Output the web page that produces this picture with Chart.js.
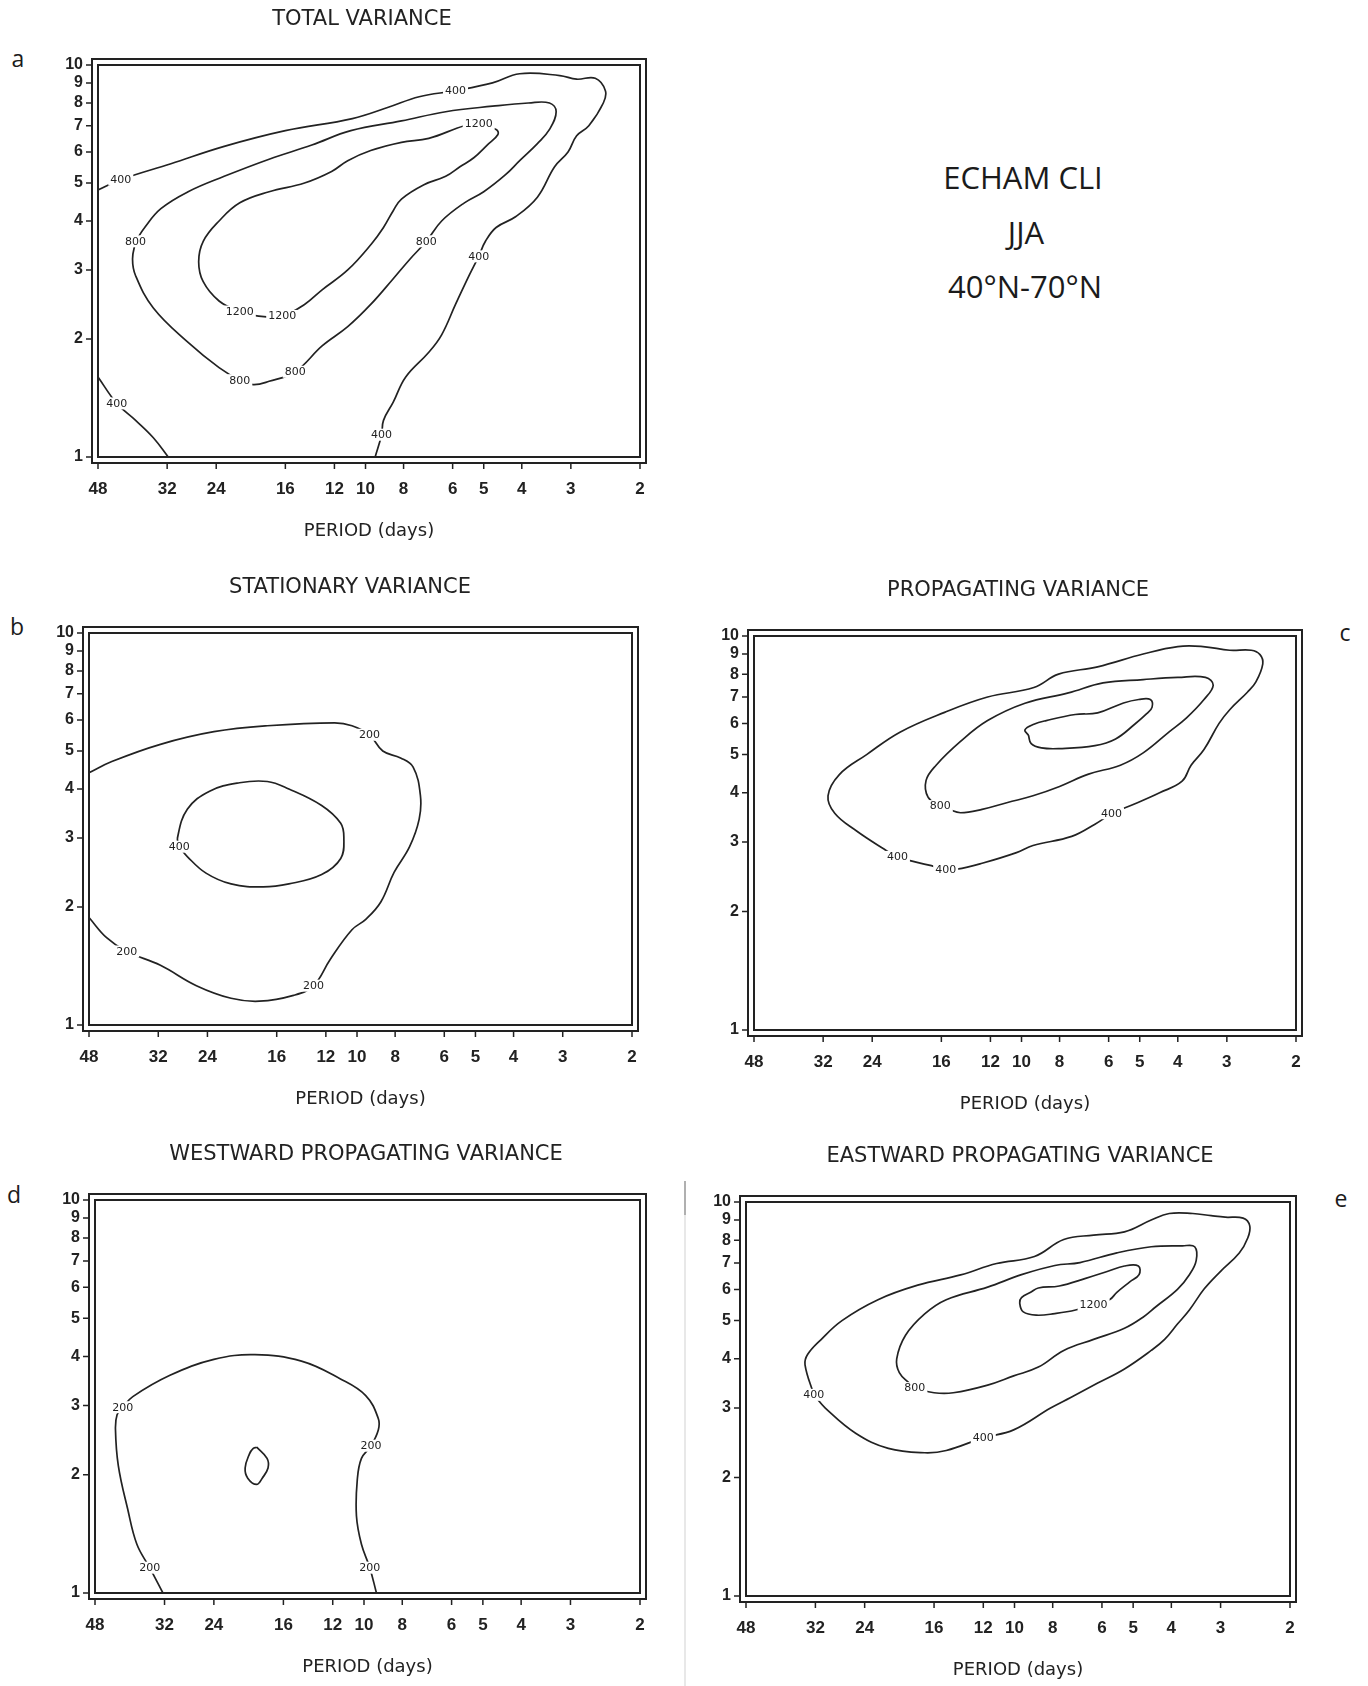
<!DOCTYPE html>
<html>
<head>
<meta charset="utf-8">
<script src="https://cdn.jsdelivr.net/npm/chart.js@4.4.1/dist/chart.umd.min.js"></script>
<style>
  html, body { margin: 0; padding: 0; background: #fff; }
  body { width: 1368px; height: 1686px; position: relative; overflow: hidden; }
  canvas { position: absolute; }
  .txt { position: absolute; font-family: "Open Sans", sans-serif; color: #1b1b1b; white-space: nowrap; text-align: center; }
  .big { font-size: 31px; line-height: 40px; width: 300px; }
  .letter { font-size: 23px; line-height: 24px; width: 30px; }
  .scan { position: absolute; left: 684px; width: 2px; }
</style>
</head>
<body>
<div class="txt big" style="left:873px; top:157px;">ECHAM CLI</div>
<div class="txt big" style="left:876px; top:212px;">JJA</div>
<div class="txt big" style="left:875px; top:266px;">40°N-70°N</div>

<div class="txt letter" style="left:3px; top:46px;">a</div>
<div class="txt letter" style="left:2px; top:614px;">b</div>
<div class="txt letter" style="left:1330px; top:620px;">c</div>
<div class="txt letter" style="left:-1px; top:1182px;">d</div>
<div class="txt letter" style="left:1326px; top:1186px;">e</div>

<div class="scan" style="top:1182px; height:504px; background:#e8e8e8;"></div>
<div class="scan" style="top:1181px; height:34px; background:#b0b0b0;"></div>

<script>
// axis ticks
const periodTicks = [48, 32, 24, 16, 12, 10, 8, 6, 5, 4, 3, 2];
const waveTicks = [1, 2, 3, 4, 5, 6, 7, 8, 9, 10];

// contours are [period (days), wavenumber]
// a - total variance
const totalC400 = [[48,4.8],[42,5.1],[31.3,5.6],[22.9,6.2],[16,6.8],[10.8,7.3],[8.75,7.8],[7.3,8.3],[5.9,8.6],[4.75,9.0],[4.05,9.5],[3.2,9.4],[2.9,9.2],[2.6,9.25],[2.45,8.6],[2.48,8.0],[2.7,7.0],[2.9,6.6],[3.05,6.0],[3.3,5.5],[3.65,4.6],[4.15,4.1],[4.65,3.85],[4.95,3.55],[5.15,3.25],[5.45,2.9],[5.9,2.45],[6.4,2.05],[6.9,1.85],[7.9,1.6],[8.5,1.38],[9.0,1.24],[9.1,1.14],[9.45,1.0]];
const totalC400low = [[48,1.6],[43,1.37],[38.5,1.24],[34.7,1.12],[31.8,1.0]];
const totalC800 = [[38.5,3.55],[36.5,3.85],[33.2,4.3],[28.3,4.75],[22.9,5.2],[17.6,5.75],[13.7,6.25],[10.9,6.8],[8.1,7.2],[6.25,7.6],[4.75,7.85],[3.85,8.0],[3.4,8.0],[3.27,7.6],[3.4,6.85],[3.65,6.3],[4.05,5.7],[4.4,5.25],[5.0,4.75],[5.6,4.45],[6.4,4.0],[7.0,3.55],[7.7,3.2],[8.5,2.85],[9.7,2.45],[11.1,2.15],[12.9,1.92],[15.1,1.65],[17.6,1.56],[19.3,1.53],[20.9,1.57],[23.6,1.69],[28.3,1.96],[34.7,2.4],[38.5,2.9],[39.2,3.2],[38.5,3.55]];
const totalC1200 = [[5.15,7.07],[4.65,6.85],[4.6,6.65],[4.9,6.25],[5.3,5.8],[5.75,5.5],[6.25,5.2],[7.1,4.95],[8.1,4.55],[8.5,4.25],[9.0,3.85],[9.65,3.5],[11.1,3.0],[12.9,2.67],[14.3,2.45],[16.3,2.29],[18.9,2.29],[20.9,2.35],[23.6,2.5],[25.9,2.8],[26.6,3.15],[25.9,3.55],[23.6,4.0],[20.9,4.45],[17.6,4.75],[14.3,5.0],[12.2,5.35],[11.1,5.7],[9.7,6.05],[8.1,6.35],[6.9,6.5],[5.6,7.0],[5.15,7.07]];
const totalLabels = [[42,5.1,'400'],[5.9,8.6,'400'],[5.15,3.25,'400'],[9.1,1.14,'400'],[43,1.37,'400'],
  [38.5,3.55,'800'],[7.0,3.55,'800'],[15.1,1.65,'800'],[20.9,1.57,'800'],
  [5.15,7.07,'1200'],[16.3,2.29,'1200'],[20.9,2.35,'1200']];

// b - stationary variance
const statC200 = [[48,4.4],[42,4.7],[31.6,5.2],[23.1,5.6],[16.9,5.8],[11.4,5.9],[10.3,5.8],[9.3,5.5],[8.6,5.0],[7.75,4.8],[7.2,4.55],[6.9,3.85],[6.95,3.35],[7.35,2.85],[8.05,2.45],[8.7,2.06],[9.5,1.86],[10.3,1.75],[11.7,1.47],[12.9,1.26],[14.5,1.19],[17.7,1.15],[20.9,1.17],[25.6,1.26],[31.6,1.42],[38.5,1.54],[43.3,1.67],[48,1.88]];
const statC400 = [[28.3,2.85],[28.6,3.0],[27,3.55],[23.7,3.95],[19.9,4.15],[16.9,4.18],[14.9,4.0],[12.3,3.63],[11.0,3.27],[10.8,3.0],[11.0,2.66],[12.3,2.42],[14.9,2.29],[17.3,2.25],[20.9,2.29],[24.2,2.44],[27,2.69],[28.3,2.85]];
const statLabels = [[9.3,5.5,'200'],[12.9,1.26,'200'],[38.5,1.54,'200'],[28.3,2.85,'400']];

// c - propagating variance
const propC400 = [[5.9,3.55],[6.5,3.33],[7.45,3.1],[9.35,2.94],[10.3,2.82],[12.6,2.65],[14.6,2.56],[15.6,2.56],[17.2,2.62],[20.7,2.75],[22.4,2.88],[26.3,3.2],[29.9,3.55],[31.1,3.93],[29.1,4.45],[24.8,5.0],[20.4,5.7],[15.7,6.4],[12.2,7.0],[9.3,7.4],[8.05,8.0],[6.4,8.35],[4.9,9.0],[4.0,9.4],[3.45,9.4],[2.95,9.2],[2.6,9.2],[2.47,8.97],[2.43,8.5],[2.53,7.65],[2.66,7.2],[2.95,6.5],[3.14,6.0],[3.43,5.15],[3.7,4.7],[3.9,4.28],[4.45,4.0],[5.05,3.78],[5.9,3.55]];
const propC800 = [[16.1,3.7],[17.3,3.9],[17.5,4.3],[16.5,4.7],[14.3,5.4],[12.2,6.1],[9.8,6.75],[7.6,7.17],[6.2,7.6],[4.9,7.75],[4.0,7.85],[3.4,7.85],[3.25,7.5],[3.43,6.9],[3.8,6.2],[4.2,5.72],[4.9,5.05],[5.6,4.7],[6.75,4.46],[8.0,4.15],[9.35,3.93],[10.85,3.78],[12.6,3.63],[14.3,3.56],[15.3,3.63],[16.1,3.7]];
const propC1200 = [[9.6,5.6],[9.8,5.78],[9.3,5.97],[8.65,6.1],[7.3,6.32],[6.4,6.38],[5.5,6.76],[5.03,6.9],[4.7,6.9],[4.65,6.6],[4.8,6.35],[5.15,5.97],[5.76,5.48],[6.5,5.27],[8.0,5.18],[8.9,5.2],[9.45,5.33],[9.6,5.6]];
const propLabels = [[5.9,3.55,'400'],[15.6,2.56,'400'],[20.7,2.75,'400'],[16.1,3.7,'800']];

// d - westward propagating variance
const westC200 = [[32.3,1.0],[34.9,1.16],[37.6,1.33],[39.7,1.64],[41.9,2.11],[42.6,2.61],[42.2,2.84],[40.8,2.97],[38.5,3.16],[31,3.58],[24,3.93],[18.9,4.04],[14.4,3.89],[11.5,3.51],[9.9,3.18],[9.2,2.78],[9.2,2.6],[9.6,2.37],[10.15,2.2],[10.4,1.94],[10.45,1.57],[10.15,1.33],[9.67,1.16],[9.3,1.0]];
const westCore = [[18.7,2.35],[17.6,2.2],[17.5,2.08],[18.1,1.96],[18.7,1.89],[19.7,1.96],[20.0,2.08],[19.5,2.26],[19.1,2.33],[18.7,2.35]];
const westLabels = [[34.9,1.16,'200'],[40.8,2.97,'200'],[9.6,2.37,'200'],[9.67,1.16,'200']];

// e - eastward propagating variance
const eastC400 = [[32.3,3.24],[30.2,3.0],[25.3,2.59],[20.9,2.37],[16.9,2.31],[14.9,2.34],[12,2.52],[10.05,2.64],[8.1,3.0],[7.2,3.19],[6.15,3.47],[5.26,3.77],[4.5,4.2],[4.16,4.48],[3.86,4.9],[3.6,5.32],[3.3,6.02],[3.0,6.67],[2.69,7.42],[2.56,8.1],[2.53,8.7],[2.63,9.1],[2.92,9.15],[3.17,9.23],[3.53,9.35],[4.05,9.35],[4.5,9.0],[5.26,8.4],[6.3,8.24],[7.5,8.03],[8.9,7.27],[11.1,6.98],[13.7,6.53],[17.6,6.15],[22.2,5.65],[27.4,5.0],[31.0,4.47],[33.5,4.1],[34.0,3.86],[32.3,3.24]];
const eastC800 = [[17.9,3.37],[16,3.28],[14.3,3.28],[11.7,3.43],[10.05,3.62],[8.7,3.81],[7.5,4.2],[6.3,4.48],[5.26,4.78],[4.72,5.1],[4.37,5.43],[3.86,6.0],[3.6,6.54],[3.46,7.1],[3.49,7.7],[3.75,7.74],[4.5,7.7],[5.5,7.43],[6.82,7.02],[7.9,6.9],[9.6,6.54],[11.7,6.08],[14.9,5.65],[16.9,5.2],[18.9,4.59],[19.9,4.0],[19.6,3.69],[18.5,3.47],[17.9,3.37]];
const eastC1200 = [[6.3,5.5],[7.0,5.32],[7.9,5.21],[8.8,5.16],[9.5,5.26],[9.7,5.54],[9.6,5.72],[9.1,5.9],[8.7,6.05],[7.7,6.12],[6.6,6.4],[5.82,6.66],[5.26,6.88],[4.85,6.88],[4.83,6.54],[5.1,6.27],[5.5,5.9],[5.74,5.65],[6.3,5.5]];
const eastLabels = [[32.3,3.24,'400'],[12,2.52,'400'],[17.9,3.37,'800'],[6.3,5.5,'1200']];

const INK = '#222';

// plot box in page pixels: L/R/T/B of the inner frame, tc = title centre
const panels = [
  { title: 'TOTAL VARIANCE', lines: [totalC400, totalC400low, totalC800, totalC1200], labels: totalLabels,
    box: { L: 98, R: 640, T: 65, B: 457, tc: 362 } },
  { title: 'STATIONARY VARIANCE', lines: [statC200, statC400], labels: statLabels,
    box: { L: 89, R: 632, T: 633, B: 1025, tc: 350 } },
  { title: 'PROPAGATING VARIANCE', lines: [propC400, propC800, propC1200], labels: propLabels,
    box: { L: 754, R: 1296, T: 636, B: 1030, tc: 1018 } },
  { title: 'WESTWARD PROPAGATING VARIANCE', lines: [westC200, westCore], labels: westLabels,
    box: { L: 95, R: 640, T: 1200, B: 1593, tc: 366 } },
  { title: 'EASTWARD PROPAGATING VARIANCE', lines: [eastC400, eastC800, eastC1200], labels: eastLabels,
    box: { L: 746, R: 1290, T: 1202, B: 1596, tc: 1020 } }
];

// double frame + outside tick marks
const framePlugin = {
  id: 'frame',
  afterDraw(chart) {
    const { ctx, chartArea: a, scales: { x, y } } = chart;
    ctx.save();
    ctx.strokeStyle = INK;
    ctx.lineWidth = 2;
    ctx.strokeRect(a.left, a.top, a.right - a.left, a.bottom - a.top);
    ctx.strokeRect(a.left - 6, a.top - 6, a.right - a.left + 12, a.bottom - a.top + 12);
    ctx.lineWidth = 1.5;
    ctx.beginPath();
    x.ticks.forEach(t => {
      const px = x.getPixelForValue(t.value);
      ctx.moveTo(px, a.bottom + 6);
      ctx.lineTo(px, a.bottom + 12);
    });
    y.ticks.forEach(t => {
      const py = y.getPixelForValue(t.value);
      ctx.moveTo(a.left - 6, py);
      ctx.lineTo(a.left - 12, py);
    });
    ctx.stroke();
    ctx.restore();
  }
};

function labelPlugin(items) {
  return {
    id: 'contourLabels',
    afterDatasetsDraw(chart) {
      const { ctx, scales: { x, y } } = chart;
      ctx.save();
      ctx.font = '11px "DejaVu Sans"';
      ctx.textAlign = 'center';
      ctx.textBaseline = 'middle';
      items.forEach(([p, k, t]) => {
        const px = x.getPixelForValue(p);
        const py = y.getPixelForValue(k);
        const w = ctx.measureText(t).width + 4;
        ctx.fillStyle = '#fff';
        ctx.fillRect(px - w / 2, py - 6, w, 12);
        ctx.fillStyle = INK;
        ctx.fillText(t, px, py + 0.5);
      });
      ctx.restore();
    }
  };
}

function makePanel(p) {
  const b = p.box;
  const yw = 46;                              // left axis box, holds the tick labels
  const w2 = 2 * b.tc - b.R - (b.L - yw);     // empty right axis, shifts title centre
  const cx0 = b.L - 58;
  const pl = b.L - yw - cx0;
  const cw = b.R + w2 + 12 - cx0;
  const cy0 = Math.max(0, b.T - 82);
  const pt = b.T - cy0 - 57.6;
  const ch = b.B + 90 - cy0;

  const canvas = document.createElement('canvas');
  canvas.width = cw;
  canvas.height = ch;
  canvas.style.left = cx0 + 'px';
  canvas.style.top = cy0 + 'px';
  canvas.style.width = cw + 'px';
  canvas.style.height = ch + 'px';
  document.body.appendChild(canvas);

  new Chart(canvas, {
    type: 'scatter',
    data: {
      datasets: p.lines.map(pts => ({
        data: pts.map(([x, y]) => ({ x, y })),
        showLine: true,
        borderColor: INK,
        borderWidth: 1.7,
        pointRadius: 0,
        tension: 0.4,
        fill: false
      }))
    },
    options: {
      responsive: false,
      animation: false,
      events: [],
      layout: { padding: { left: pl, right: 12, top: pt, bottom: 0 } },
      plugins: {
        legend: { display: false },
        tooltip: { enabled: false },
        title: {
          display: true,
          text: p.title,
          color: INK,
          font: { family: 'DejaVu Sans', size: 21, weight: 'normal', lineHeight: 1.2 },
          padding: { top: 0, bottom: 32.4 }
        }
      },
      scales: {
        x: {
          type: 'logarithmic',
          reverse: true,
          min: 2,
          max: 48,
          bounds: 'data',
          afterBuildTicks: s => { s.ticks = periodTicks.map(v => ({ value: v })); },
          afterFit: s => { s.height = 90; },
          grid: { display: false, drawTicks: false },
          border: { display: false },
          ticks: {
            autoSkip: false, maxRotation: 0, minRotation: 0, padding: 22, color: INK,
            font: { family: 'Liberation Sans', size: 17, weight: 'bold' },
            callback: v => String(v)
          },
          title: {
            display: true,
            text: 'PERIOD (days)',
            color: INK,
            font: { family: 'DejaVu Sans', size: 18 },
            padding: { top: 0, bottom: 5.2 }
          }
        },
        y: {
          type: 'logarithmic',
          min: 1,
          max: 10,
          bounds: 'data',
          afterBuildTicks: s => { s.ticks = waveTicks.map(v => ({ value: v })); },
          afterFit: s => { s.width = yw; },
          grid: { display: false, drawTicks: false },
          border: { display: false },
          ticks: {
            autoSkip: false, padding: 15, color: INK,
            font: { family: 'Liberation Sans', size: 16, weight: 'bold' },
            callback: v => String(v)
          }
        },
        spare: {
          type: 'linear',
          position: 'right',
          display: true,
          afterFit: s => { s.width = w2; },
          grid: { display: false, drawTicks: false },
          border: { display: false },
          ticks: { display: false }
        }
      }
    },
    plugins: [framePlugin, labelPlugin(p.labels)]
  });
}

panels.forEach(makePanel);
</script>
</body>
</html>
